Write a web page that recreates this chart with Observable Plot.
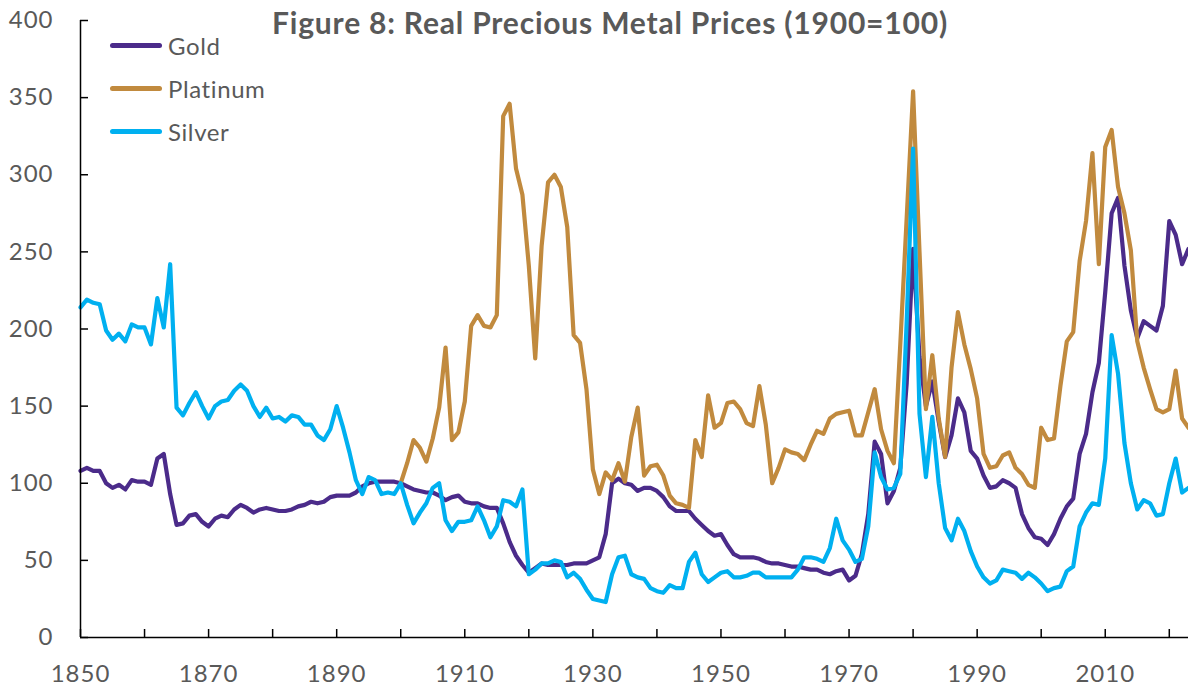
<!DOCTYPE html>
<html>
<head>
<meta charset="utf-8">
<script src="https://cdn.jsdelivr.net/npm/d3@7"></script>
<script src="https://cdn.jsdelivr.net/npm/@observablehq/plot@0.6"></script>
<style>
  html, body { margin: 0; padding: 0; background: #fff; overflow: hidden; }
  #wrap { position: relative; width: 1188px; height: 694px; overflow: hidden; font-family: Lato, "Open Sans", sans-serif; }
  #wrap svg { position: absolute; left: 0; top: 0; }
  #title { position: absolute; left: 0; top: 5px; width: 1188px; box-sizing: border-box; padding-left: 32px; height: 34px; text-align: center; font-weight: 700; font-size: 30px; line-height: 34px; letter-spacing: 0.8px; color: #595959; white-space: nowrap; }
  #legend { position: absolute; left: 110px; top: 24px; }
  .row { display: flex; align-items: center; height: 43px; }
  .sw { width: 52px; height: 4.5px; border-radius: 3px; margin-right: 6px; }
  .lab { font-size: 24px; color: #595959; letter-spacing: 0.6px; }
</style>
</head>
<body>
<div id="wrap">
  <div id="title">Figure 8: Real Precious Metal Prices (1900=100)</div>
  <div id="legend"></div>
</div>
<script>
// ---- Data ----
const seriesNames = ["Gold", "Platinum", "Silver"];
const seriesColors = ["#4B2B8A", "#C18A3E", "#00B0F0"];

const goldStart = 1850;
const goldValues = [
  108,110,108,108,100,97,99,96,102,101,        // 1850-1859
  101,99,116,119,93,73,74,79,80,75,            // 1860-1869
  72,77,79,78,83,86,84,81,83,84,               // 1870-1879
  83,82,82,83,85,86,88,87,88,91,               // 1880-1889
  92,92,92,94,98,100,101,101,101,101,          // 1890-1899
  100,98,96,95,94,94,92,89,91,92,              // 1900-1909
  88,87,87,85,84,84,74,62,53,47,               // 1910-1919
  42,45,48,47,47,47,47,48,48,48,               // 1920-1929
  50,52,67,100,103,100,99,95,97,97,            // 1930-1939
  95,91,85,82,82,82,77,73,69,66,               // 1940-1949
  67,60,54,52,52,52,51,49,48,48,               // 1950-1959
  47,46,46,45,44,44,42,41,43,44,               // 1960-1969
  37,40,54,80,127,119,87,95,110,165,           // 1970-1979
  252,182,150,166,140,117,131,155,146,121,     // 1980-1989
  116,105,97,98,102,100,97,80,71,65,           // 1990-1999
  64,60,67,77,85,90,119,132,159,178,           // 2000-2009
  224,275,285,241,212,194,205,202,199,215,     // 2010-2019
  270,261,242,252                              // 2020-2023
];

const platinumStart = 1900;
const platinumValues = [
  100,113,128,123,114,129,149,188,128,133,     // 1900-1909
  153,202,209,202,201,209,338,346,304,287,     // 1910-1919
  241,181,254,295,300,292,266,196,191,161,     // 1920-1929
  109,93,107,102,113,101,130,149,105,111,      // 1930-1939
  112,105,92,87,86,84,128,117,157,136,         // 1940-1949
  139,152,153,148,139,137,163,138,100,110,     // 1950-1959
  122,120,119,115,125,134,132,142,145,146,     // 1960-1969
  147,131,131,146,161,135,121,113,190,272,     // 1970-1979
  354,250,148,183,142,117,175,211,190,174,     // 1980-1989
  155,119,110,111,118,120,110,106,99,97,       // 1990-1999
  136,128,129,163,192,198,244,270,314,242,     // 2000-2009
  318,329,292,275,251,192,175,161,148,146,     // 2010-2019
  148,173,142,136                              // 2020-2023
];

const silverStart = 1850;
const silverValues = [
  214,219,217,216,199,193,197,192,203,201,     // 1850-1859
  201,190,220,201,242,149,144,152,159,150,     // 1860-1869
  142,150,153,154,160,164,160,150,143,149,     // 1870-1879
  142,143,140,144,143,138,138,131,128,135,     // 1880-1889
  150,136,120,102,93,104,102,93,94,93,         // 1890-1899
  100,86,74,81,87,97,100,76,69,75,             // 1900-1909
  75,76,85,76,65,72,89,88,85,96,               // 1910-1919
  41,44,48,48,50,49,39,42,38,31,               // 1920-1929
  25,24,23,41,52,53,41,39,38,32,               // 1930-1939
  30,29,34,32,32,49,55,41,36,39,               // 1940-1949
  42,43,39,39,40,42,42,39,39,39,               // 1950-1959
  39,39,44,52,52,51,49,58,77,63,               // 1960-1969
  57,49,51,72,120,104,96,97,106,205,           // 1970-1979
  317,145,104,143,100,71,63,77,69,56,          // 1980-1989
  46,39,35,37,44,43,42,38,42,39,               // 1990-1999
  35,30,32,33,43,46,72,81,87,86,               // 2000-2009
  116,196,171,126,100,83,89,87,79,80,          // 2010-2019
  100,116,94,97                                // 2020-2023
];

// axis ticks / labels
const xDomain = [1850, 2023];
const yDomain = [0, 400];
const xTickYears = [1850,1860,1870,1880,1890,1900,1910,1920,1930,1940,1950,1960,1970,1980,1990,2000,2010,2020];
const xLabelYears = [1850,1870,1890,1910,1930,1950,1970,1990,2010];
const yTicks = [0,50,100,150,200,250,300,350,400];

// ---- Build tables ----
function toRows(start, values, name) {
  return values.map((v, i) => ({year: start + i, value: v, series: name}));
}
const gold = toRows(goldStart, goldValues, seriesNames[0]);
const platinum = toRows(platinumStart, platinumValues, seriesNames[1]);
const silver = toRows(silverStart, silverValues, seriesNames[2]);

const lineOpts = (color) => ({x: "year", y: "value", stroke: color, strokeWidth: 4.2, strokeLinejoin: "round", strokeLinecap: "round"});

const chart = Plot.plot({
  width: 1188,
  height: 694,
  marginTop: 20,
  marginLeft: 80,
  marginRight: 0,
  marginBottom: 57,
  x: {domain: xDomain, label: null},
  y: {domain: yDomain, label: null},
  style: {fontFamily: "Lato, 'Open Sans', sans-serif", background: "transparent", letterSpacing: "1px", overflow: "visible"},
  marks: [
    Plot.line(gold, lineOpts(seriesColors[0])),
    Plot.line(platinum, lineOpts(seriesColors[1])),
    Plot.line(silver, lineOpts(seriesColors[2])),
    // axis lines
    Plot.ruleX([xDomain[0]], {stroke: "black", strokeWidth: 1.5}),
    Plot.ruleY([yDomain[0]], {stroke: "black", strokeWidth: 1.5}),
    // inward tick marks
    Plot.axisX(xTickYears, {tickSize: 8, dy: -8, fill: "none", stroke: "black", strokeWidth: 1.5, label: null}),
    Plot.axisY(yTicks, {tickSize: 8, dx: 8, fill: "none", stroke: "black", strokeWidth: 1.5, label: null}),
    // tick labels
    Plot.axisX(xLabelYears, {tickSize: 0, tickPadding: 27, fontSize: 24, fill: "#595959", stroke: "none", tickFormat: d => String(d), label: null}),
    Plot.axisY(yTicks, {tickSize: 0, tickPadding: 27, fontSize: 24, fill: "#595959", stroke: "none", tickFormat: d => String(d), label: null})
  ]
});

const wrap = document.getElementById("wrap");
wrap.insertBefore(chart, wrap.firstChild);

// legend
const legend = document.getElementById("legend");
seriesNames.forEach((name, i) => {
  const row = document.createElement("div");
  row.className = "row";
  const sw = document.createElement("span");
  sw.className = "sw";
  sw.style.background = seriesColors[i];
  const lab = document.createElement("span");
  lab.className = "lab";
  lab.textContent = name;
  row.appendChild(sw);
  row.appendChild(lab);
  legend.appendChild(row);
});
</script>
</body>
</html>
